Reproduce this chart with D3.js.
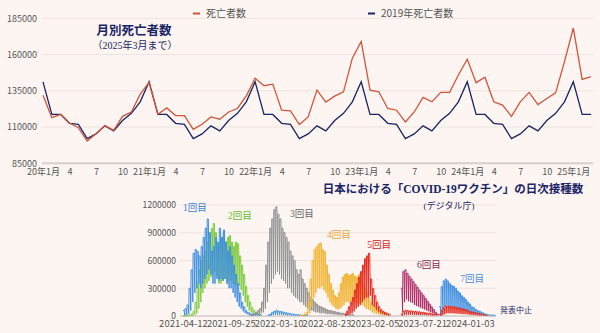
<!DOCTYPE html>
<html>
<head>
<meta charset="utf-8">
<script src="https://cdn.jsdelivr.net/npm/d3@7"></script>
<style>
  body { margin: 0; background: #fcf5f1; }
  svg { display: block; font-family: "Noto Sans CJK JP", "Noto Sans", sans-serif; }
</style>
</head>
<body>
<svg id="chart" width="600" height="333"></svg>
<script>
// monthly deaths, Jan 2020 - Mar 2025
const deaths = [
  132000, 116500, 118800, 112800, 109600, 100300, 105400, 111000, 107700, 117400, 120400, 132700,
  140800, 118800, 123200, 117900, 117900, 108400, 111900, 117000, 115400, 120400, 122800, 131500,
  143600, 138500, 139600, 121600, 121100, 111700, 117000, 135500, 127200, 131300, 134300, 157500,
  169000, 135500, 134300, 122800, 121600, 113500, 120400, 130400, 127400, 133900, 133900, 145900,
  156800, 140600, 144300, 127400, 125100, 117400, 127400, 133900, 125500, 129700, 133600, 155100,
  178300, 142900, 144700
];
// 2019 deaths by calendar month, repeated every year as the baseline
const deaths2019 = [141200, 118700, 118700, 112600, 111900, 102000, 105300, 110800, 107400, 114500, 119500, 127400];
const monthTicks = ['20年1月', '4', '7', '10', '21年1月', '4', '7', '10', '22年1月', '4', '7', '10',
  '23年1月', '4', '7', '10', '24年1月', '4', '7', '10', '25年1月'];
const deathTicks = [85000, 110000, 135000, 160000, 185000];

// daily vaccinations: weekday level / sunday low per week, in thousands
const dose1High = [60, 80, 120, 300, 500, 680, 720, 700, 650, 750, 850, 950, 1050, 900, 700, 750, 850, 800, 950, 850,
  930, 800, 700, 750, 650, 550, 450, 350, 250, 150, 100, 60, 40, 30, 20, 20, 15, 15, 15];
const dose1Low = [5, 10, 20, 60, 150, 250, 300, 350, 300, 350, 400, 450, 500, 450, 350, 350, 400, 380, 400, 380,
  400, 350, 300, 300, 250, 200, 150, 100, 80, 50, 30, 20, 10, 10, 5, 5, 5, 5, 5];
const dose1KidsHigh = [10, 20, 40, 50, 60, 55, 50, 45, 40, 35, 30, 25, 20, 20, 15, 15, 10, 10, 10, 10];
const dose1KidsLow = [2, 5, 10, 15, 15, 15, 12, 10, 10, 8, 8, 6, 5, 5, 4, 4, 3, 3, 3, 3];
const dose2High = [0, 0, 5, 10, 20, 50, 150, 350, 500, 600, 650, 700, 800, 900, 950, 1000, 900, 750, 800, 850,
  900, 800, 850, 870, 800, 750, 800, 780, 650, 550, 450, 320, 220, 150, 90, 60, 40, 25, 15];
const dose2Low = [0, 0, 0, 2, 5, 10, 30, 80, 150, 250, 300, 350, 380, 420, 450, 480, 420, 350, 350, 380,
  400, 350, 380, 380, 350, 330, 350, 330, 280, 220, 150, 100, 60, 40, 20, 15, 10, 5, 5];
const dose3High = [5, 10, 20, 40, 60, 80, 150, 300, 550, 800, 950, 1050, 1150, 1180, 1100, 1050, 950, 900, 850, 800,
  700, 650, 600, 500, 450, 500, 400, 350, 300, 250, 200, 180, 150, 130, 110, 100, 90, 80, 70, 60,
  60, 50, 50, 40, 40, 30, 30, 20, 20, 15, 15, 15];
const dose3Low = [0, 0, 5, 10, 20, 30, 40, 80, 150, 250, 350, 400, 450, 480, 450, 400, 380, 350, 300, 300,
  250, 220, 200, 180, 150, 150, 120, 100, 80, 70, 60, 50, 40, 40, 30, 30, 30, 25, 20, 20,
  20, 15, 15, 10, 10, 10, 10, 5, 5, 5, 5, 5];
const dose4High = [5, 10, 20, 40, 150, 400, 600, 720, 750, 780, 790, 720, 700, 550, 450, 350, 280, 220, 200, 250,
  350, 420, 450, 460, 440, 450, 460, 430, 420, 450, 400, 350, 300, 250, 200, 150, 120, 100, 80, 60,
  50, 40, 30, 20];
const dose4Low = [0, 0, 5, 10, 30, 100, 200, 250, 300, 300, 320, 280, 250, 200, 150, 120, 100, 80, 70, 80,
  100, 120, 150, 150, 150, 150, 150, 140, 130, 140, 120, 100, 80, 70, 60, 40, 30, 25, 20, 15,
  10, 10, 5, 5];
const dose5High = [20, 50, 100, 150, 200, 280, 350, 420, 480, 550, 620, 650, 680, 400, 300, 220, 150, 100, 70, 50, 40, 30, 20];
const dose5Low = [0, 10, 20, 30, 50, 80, 100, 120, 150, 180, 200, 200, 220, 120, 100, 70, 50, 30, 20, 10, 10, 5, 5];
const dose5SpringHigh = [20, 50, 60, 60, 55, 55, 50, 50, 45, 45, 40, 40, 35, 30, 30, 25, 20, 15];
const dose5SpringLow = [2, 10, 15, 15, 15, 15, 12, 12, 10, 10, 10, 10, 8, 8, 6, 5, 5, 3];
const dose5AutumnHigh = [20, 60, 90, 110, 110, 105, 100, 100, 95, 90, 85, 80, 75, 70, 60, 50, 45, 40, 35, 30, 25, 20, 15, 10];
const dose5AutumnLow = [2, 10, 20, 30, 30, 30, 30, 28, 26, 25, 22, 20, 20, 18, 15, 12, 10, 10, 8, 6, 5, 5, 3, 2];
const dose6High = [300, 480, 500, 460, 430, 400, 370, 340, 310, 280, 250, 220, 190, 160, 130, 100, 70, 40, 20];
const dose6Low = [50, 150, 180, 160, 150, 140, 120, 110, 100, 90, 80, 70, 60, 50, 40, 30, 20, 10, 5];
const dose7High = [100, 320, 380, 400, 380, 350, 330, 320, 300, 270, 250, 220, 200, 180, 150, 130, 100, 90, 70, 60,
  50, 40, 30, 20, 15, 10, 10, 10];
const dose7Low = [10, 60, 100, 120, 110, 100, 100, 90, 90, 80, 70, 60, 60, 50, 40, 30, 30, 25, 20, 15,
  10, 10, 5, 5, 5, 3, 3, 3];
const vaxTicks = ['2021-04-12', '2021-09-25', '2022-03-10', '2022-08-23', '2023-02-05', '2023-07-21', '2024-01-03'];
const vaxYTicks = [0, 300000, 600000, 900000, 1200000];

const blue = '#3d8fe3', green = '#7dcb3c', gray = '#8f8f8f', orange = '#f1b22c', red = '#e5291f', plum = '#b02a68';

const runs = [
  { start: '2021-04-12', high: dose2High, low: dose2Low, color: green },
  { start: '2021-04-12', high: dose1High, low: dose1Low, color: blue },
  { start: '2021-11-29', high: dose3High, low: dose3Low, color: gray },
  { start: '2022-01-31', high: dose1KidsHigh, low: dose1KidsLow, color: blue },
  { start: '2022-05-23', high: dose4High, low: dose4Low, color: orange },
  { start: '2023-05-08', high: dose6High, low: dose6Low, color: plum },
  { start: '2023-09-18', high: dose7High, low: dose7Low, color: blue },
  { start: '2022-10-24', high: dose5High, low: dose5Low, color: red },
  { start: '2023-05-08', high: dose5SpringHigh, low: dose5SpringLow, color: red },
  { start: '2023-09-18', high: dose5AutumnHigh, low: dose5AutumnLow, color: red }
];

// series names written beside the curves
const doseLabels = [
  { text: '1回目', date: '2021-04-12', value: 1135000, color: '#3b7fd8' },
  { text: '2回目', date: '2021-09-15', value: 1054000, color: '#68bb30' },
  { text: '3回目', date: '2022-04-18', value: 1070000, color: '#666666' },
  { text: '4回目', date: '2022-08-25', value: 838000, color: '#e9a53b' },
  { text: '5回目', date: '2023-01-11', value: 730000, color: '#d4221b' },
  { text: '6回目', date: '2023-07-03', value: 514000, color: '#8e1f50' },
  { text: '7回目', date: '2023-11-30', value: 368000, color: '#4b8fe0' },
  { text: '発表中止', date: '2024-04-16', value: 32000, color: '#1f2a6b' }
];

const svg = d3.select('#chart');
const navy = '#1a2466';
const serif = '"Liberation Serif", "Noto Sans CJK JP", serif';

// ---------- monthly deaths ----------
const xTop = d3.scalePoint()
  .domain(d3.range(deaths.length))
  .range([43, 591]);

const yTop = d3.scaleLinear()
  .domain([85000, 185000])
  .range([163.3, 18.3]);

svg.append('g')
  .selectAll('line')
  .data(deathTicks.slice(1))
  .enter()
  .append('line')
  .attr('x1', 42)
  .attr('x2', 593)
  .attr('y1', d => yTop(d))
  .attr('y2', d => yTop(d))
  .attr('stroke', '#ede3de')
  .attr('stroke-width', 1);

svg.append('line')
  .attr('x1', 42)
  .attr('x2', 593)
  .attr('y1', yTop(85000))
  .attr('y2', yTop(85000))
  .attr('stroke', '#d6d0cc')
  .attr('stroke-width', 2);

const yAxisTop = d3.axisLeft(yTop)
  .tickValues(deathTicks)
  .tickFormat(d3.format('d'))
  .tickSize(0)
  .tickPadding(5);

svg.append('g')
  .attr('transform', 'translate(37,0)')
  .call(yAxisTop)
  .call(g => g.select('.domain').remove())
  .selectAll('text')
  .attr('x', 0)
  .attr('fill', '#555')
  .style('font-size', '9px')
  .style('font-family', '"Noto Sans CJK JP", sans-serif');

const xAxisTop = d3.axisBottom(xTop)
  .tickValues(d3.range(0, deaths.length, 3))
  .tickFormat((d, i) => monthTicks[i])
  .tickSize(0)
  .tickPadding(0);

svg.append('g')
  .attr('transform', 'translate(0,169)')
  .call(xAxisTop)
  .call(g => g.select('.domain').remove())
  .selectAll('text')
  .attr('fill', '#555')
  .style('font-size', '9px')
  .style('font-family', '"Noto Sans CJK JP", sans-serif');

const lineTop = d3.line()
  .x((d, i) => xTop(i))
  .y(d => yTop(d));

svg.append('path')
  .datum(deaths.map((d, i) => deaths2019[i % 12]))
  .attr('d', lineTop)
  .attr('fill', 'none')
  .attr('stroke', navy)
  .attr('stroke-width', 1.3);

svg.append('path')
  .datum(deaths)
  .attr('d', lineTop)
  .attr('fill', 'none')
  .attr('stroke', '#d0553a')
  .attr('stroke-width', 1.3);

// legend
const legendTop = [
  { text: '死亡者数', color: '#d0553a', x: 193 },
  { text: '2019年死亡者数', color: navy, x: 368 }
];
legendTop.forEach(l => {
  svg.append('line')
    .attr('x1', l.x).attr('x2', l.x + 7)
    .attr('y1', 13.5).attr('y2', 13.5)
    .attr('stroke', l.color)
    .attr('stroke-width', 2);
  svg.append('text')
    .attr('x', l.x + 13)
    .attr('y', 17)
    .attr('fill', '#555')
    .style('font-size', '10px')
    .text(l.text);
});

svg.append('text')
  .attr('x', 134).attr('y', 35)
  .attr('text-anchor', 'middle')
  .attr('fill', navy)
  .style('font-family', serif)
  .style('font-weight', 'bold')
  .style('font-size', '12.5px')
  .text('月別死亡者数');

svg.append('text')
  .attr('x', 135).attr('y', 49)
  .attr('text-anchor', 'middle')
  .attr('fill', navy)
  .style('font-family', serif)
  .style('font-size', '10px')
  .text('（2025年3月まで）');

// ---------- daily vaccinations ----------
const parseDate = d3.timeParse('%Y-%m-%d');

const xVax = d3.scaleTime()
  .domain([parseDate(vaxTicks[0]), parseDate(vaxTicks[vaxTicks.length - 1])])
  .range([183, 470]);

const yVax = d3.scaleLinear()
  .domain([0, 1200000])
  .range([316, 205]);

svg.append('g')
  .selectAll('line')
  .data(vaxYTicks.slice(1))
  .enter()
  .append('line')
  .attr('x1', 180)
  .attr('x2', 496)
  .attr('y1', d => yVax(d))
  .attr('y2', d => yVax(d))
  .attr('stroke', '#ede3de')
  .attr('stroke-width', 1);

svg.append('line')
  .attr('x1', 180)
  .attr('x2', 496)
  .attr('y1', yVax(0))
  .attr('y2', yVax(0))
  .attr('stroke', '#cfcac8')
  .attr('stroke-width', 1.5);

svg.append('g')
  .attr('transform', 'translate(176,0)')
  .call(d3.axisLeft(yVax)
    .tickValues(vaxYTicks)
    .tickFormat(d3.format('d'))
    .tickSize(0)
    .tickPadding(0))
  .call(g => g.select('.domain').remove())
  .selectAll('text')
  .attr('fill', '#555')
  .style('font-size', '8.6px')
  .style('font-family', '"Noto Sans CJK JP", sans-serif');

svg.append('g')
  .attr('transform', 'translate(0,320.5)')
  .call(d3.axisBottom(xVax)
    .tickValues(vaxTicks.map(parseDate))
    .tickFormat(d3.timeFormat('%Y-%m-%d'))
    .tickSize(0)
    .tickPadding(0))
  .call(g => g.select('.domain').remove())
  .selectAll('text')
  .attr('fill', '#555')
  .style('font-size', '9.5px')
  .style('font-family', '"Noto Sans CJK JP", sans-serif');

// one run per dose wave: weekday level held Mon-Fri, then the sunday dip
function weekly(run) {
  const t0 = parseDate(run.start);
  const pts = [];
  run.high.forEach((h, w) => {
    pts.push([d3.timeDay.offset(t0, 7 * w), h * 1000]);
    pts.push([d3.timeDay.offset(t0, 7 * w + 4), h * 1000]);
    pts.push([d3.timeDay.offset(t0, 7 * w + 6), run.low[w] * 1000]);
  });
  return pts;
}

const lineVax = d3.line()
  .x(d => xVax(d[0]))
  .y(d => yVax(d[1]));

svg.append('g')
  .selectAll('path')
  .data(runs)
  .enter()
  .append('path')
  .attr('d', d => lineVax(weekly(d)))
  .attr('fill', 'none')
  .attr('stroke', d => d.color)
  .attr('stroke-width', 1)
  .attr('stroke-linejoin', 'bevel');

svg.append('g')
  .selectAll('text')
  .data(doseLabels)
  .enter()
  .append('text')
  .attr('x', d => xVax(parseDate(d.date)))
  .attr('y', d => yVax(d.value))
  .attr('fill', d => d.color)
  .style('font-family', serif)
  .style('font-size', d => d.text === '発表中止' ? '8px' : '9.5px')
  .text(d => d.text);

svg.append('text')
  .attr('x', 453).attr('y', 192.5)
  .attr('text-anchor', 'middle')
  .attr('fill', navy)
  .style('font-family', serif)
  .style('font-weight', 'bold')
  .style('font-size', '11.5px')
  .text('日本における「COVID-19ワクチン」の日次接種数');

svg.append('text')
  .attr('x', 449).attr('y', 208.5)
  .attr('text-anchor', 'middle')
  .attr('fill', navy)
  .style('font-family', serif)
  .style('font-size', '9px')
  .text('(デジタル庁)');
</script>
</body>
</html>
